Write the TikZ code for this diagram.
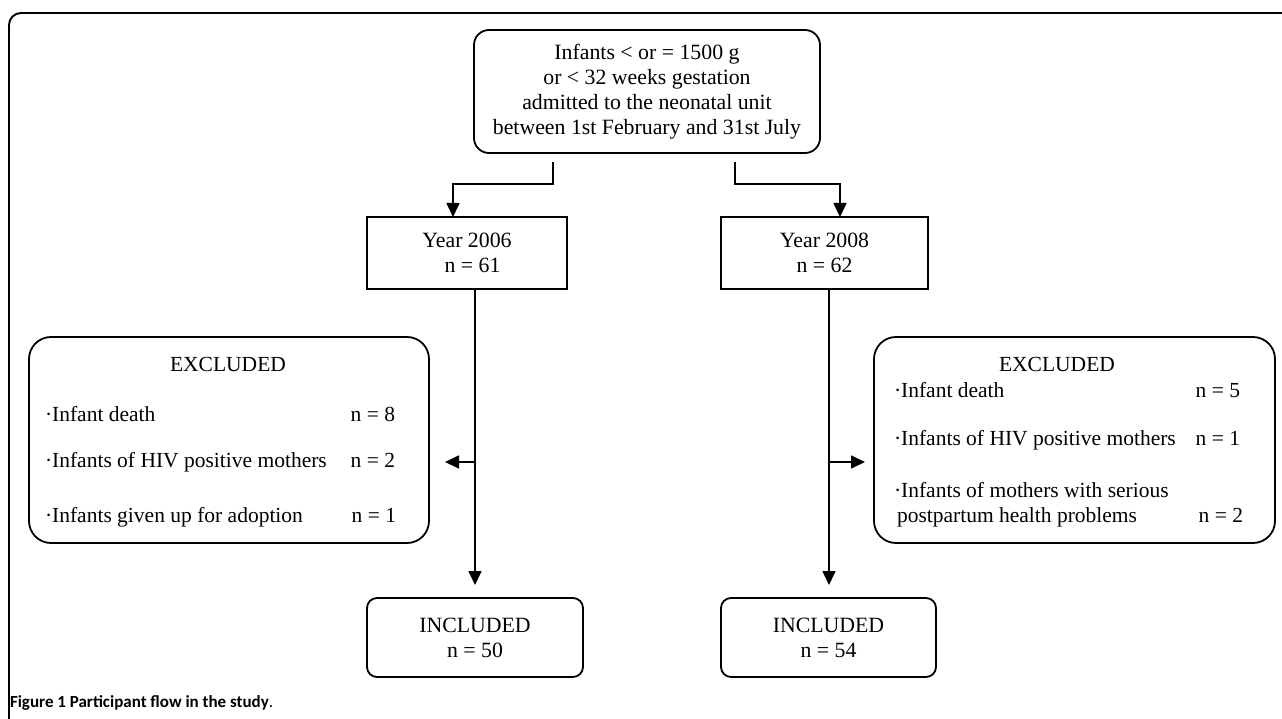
\documentclass[tikz,border=0pt]{standalone}
\usepackage{fontspec}
\setmainfont{Liberation Serif}
\newfontfamily\capfont{Carlito}
\usetikzlibrary{arrows.meta,calc}
\begin{document}
\begin{tikzpicture}[x=1bp,y=-1bp,
  every node/.style={inner sep=0pt,outer sep=0pt},
  txt/.style={font=\fontsize{21.8bp}{25bp}\selectfont, align=center},
  rbox/.style={draw, line width=1.8bp, rounded corners=#1},
  sbox/.style={draw, line width=1.8bp},
  item/.style={font=\fontsize{21.5bp}{25bp}\selectfont, text height=14bp, text depth=4bp},
  arr/.style={line width=1.7bp, -{Triangle[length=14bp,width=13bp]}},
  ln/.style={line width=1.7bp}]
\useasboundingbox (0,0) rectangle (1282,719);
% outer frame
\coordinate (fa) at (9,719);
\coordinate (fb) at (1282,13);
\draw[line width=1.9bp, rounded corners=12bp] (fa) |- (fb);
% top box
\node[rbox=15bp, txt, minimum width=346bp, minimum height=123bp] (top) at (647,91.5)
  {Infants < or = 1500 g\\or < 32 weeks gestation\\admitted to the neonatal unit\\between 1st February and 31st July};
% year boxes
\node[sbox, txt, minimum width=200bp, minimum height=72bp] (y06) at (467,253) {Year 2006\\\hspace*{0.5em}n = 61};
\node[sbox, txt, minimum width=207bp, minimum height=72bp] (y08) at (824.5,253) {Year 2008\\n = 62};
% excluded boxes
\node[rbox=22bp, minimum width=400bp, minimum height=206bp] (exl) at (229,440) {};
\node[rbox=22bp, minimum width=401bp, minimum height=206bp] (exr) at (1074.5,440) {};
% included boxes
\node[rbox=10bp, txt, minimum width=216bp, minimum height=79bp] (inl) at (475,637.5) {INCLUDED\\n = 50};
\node[rbox=10bp, txt, minimum width=215bp, minimum height=79bp] (inr) at (828.5,637.5) {INCLUDED\\n = 54};
% left excluded text
\node[item] (exlt) at (228,366) {EXCLUDED};
\node[item, anchor=west] (l1) at (45,416) {·Infant death};
\node[item, anchor=east] (l1n) at (395,416) {n = 8};
\node[item, anchor=west] (l2) at (45,462) {·Infants of HIV positive mothers};
\node[item, anchor=east] (l2n) at (395,462) {n = 2};
\node[item, anchor=west] (l3) at (45,517) {·Infants given up for adoption};
\node[item, anchor=east] (l3n) at (396,517) {n = 1};
% right excluded text
\node[item] (exrt) at (1057,366) {EXCLUDED};
\node[item, anchor=west] (r1) at (894,392) {·Infant death};
\node[item, anchor=east] (r1n) at (1240,392) {n = 5};
\node[item, anchor=west] (r2) at (894,440) {·Infants of HIV positive mothers};
\node[item, anchor=east] (r2n) at (1240,440) {n = 1};
\node[item, anchor=west] (r3) at (894,492) {·Infants of mothers with serious};
\node[item, anchor=west] (r4) at (897,517) {postpartum health problems};
\node[item, anchor=east] (r4n) at (1243,517) {n = 2};
% connectors
\coordinate (tl) at (553,162);
\coordinate (tr) at (735,162);
\draw[arr] (tl) -- ++(0,22) -| ([xshift=-14bp]y06.north);
\draw[arr] (tr) -- ++(0,22) -| ([xshift=15.5bp]y08.north);
\draw[arr, shorten >=13bp] ([xshift=8bp]y06.south) -- (inl.north);
\draw[arr, shorten >=13bp] ([xshift=4.5bp]y08.south) -- ([xshift=0.5bp]inr.north);
\coordinate (bl) at (475,462);
\coordinate (br) at (829,462);
\draw[arr, shorten >=16bp] (bl) -- (bl -| exl.east);
\draw[arr, shorten >=9bp] (br) -- (br -| exr.west);
% caption
\node[anchor=base west, font=\capfont\fontsize{17bp}{20bp}\selectfont] (cap) at (10,707)
  {\textbf{Figure 1 Participant flow in the study}.};
\end{tikzpicture}
\end{document}
